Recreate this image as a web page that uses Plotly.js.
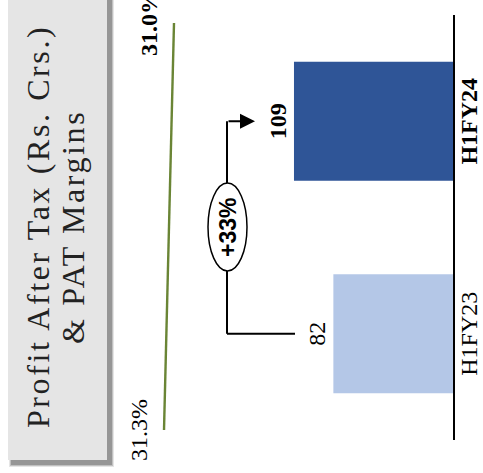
<!DOCTYPE html>
<html>
<head>
<meta charset="utf-8">
<script src="https://cdn.plot.ly/plotly-3.0.1.min.js"></script>
<style>
  html, body { margin: 0; padding: 0; width: 483px; height: 473px; overflow: hidden; background: #fff; }
  /* the chart is laid out upright and turned a quarter turn counter-clockwise */
  #chart {
    position: absolute; left: 0; top: 0;
    width: 473px; height: 483px;
    transform-origin: 0 0;
    transform: translate(0px, 473px) rotate(-90deg);
  }
  #chart .annotation[data-index="0"] text,
  #chart .annotation[data-index="1"] text { letter-spacing: 2.6px; }
</style>
</head>
<body>
<div id="chart"></div>
<script>
// ---- data ----
const categories = ['H1FY23', 'H1FY24'];
const patValues = [82, 109];            // Profit After Tax, Rs. Crs.
const patMargins = [31.3, 31.0];        // PAT margin, %
const tickLabels = ['H1FY23', '<b>H1FY24</b>'];
const barColors = ['#B4C7E7', '#2F5597'];
const titleLines = ['Profit After Tax (Rs. Crs.)', '& PAT Margins'];

// ---- geometry helpers (page is 473 x 483 before turning) ----
const W = 473, H = 483;
const px = u => u / W;            // horizontal pixel -> paper fraction
const py = v => 1 - v / H;        // vertical pixel (from top) -> paper fraction

const baseV = 453;                // bar baseline
const yTop = 310.5;               // value at the top edge of the bar axis
const vToY = v => (baseV - v) / baseV * yTop;

const serif = 'Liberation Serif, Times New Roman, serif';

const valueText = patValues.map((v, i) => i === patValues.length - 1 ? '<b>' + v + '</b>' : String(v));
const marginText = patMargins.map((m, i) => {
  const s = m.toFixed(1) + '%';
  return i === patMargins.length - 1 ? '<b>' + s + '</b>' : s;
});
const growth = Math.round((patValues[1] / patValues[0] - 1) * 100);
const growthText = '<b>+' + growth + '%</b>';

const bars = {
  type: 'bar',
  x: categories,
  y: patValues,
  width: 0.56,
  marker: { color: barColors, line: { width: 0 } },
  text: valueText,
  textposition: 'outside',
  constraintext: 'none',
  cliponaxis: false,
  textfont: { family: serif, size: 24, color: '#000' },
  hoverinfo: 'skip',
  xaxis: 'x', yaxis: 'y'
};

const marginLine = {
  type: 'scatter',
  mode: 'lines',
  x: categories,
  y: patMargins,
  line: { color: '#6A8535', width: 2.4 },
  hoverinfo: 'skip',
  xaxis: 'x2', yaxis: 'y2'
};

// bracket levels
const bracketY = vToY(227);
const legStartY = vToY(295);
const arrowTipY = vToY(255);

const shapes = [];
// title panel with a soft shadow
[[3, 0.10], [2, 0.16], [1, 0.22]].forEach(([o, a]) => {
  shapes.push({
    type: 'rect', xref: 'paper', yref: 'paper', layer: 'below',
    x0: px(13 - 4 - o), x1: px(473 + 10), y0: py(107 + 4 + o), y1: py(8 + 4 - o),
    fillcolor: 'rgba(0,0,0,' + a + ')', line: { width: 0 }
  });
});
shapes.push({
  type: 'rect', xref: 'paper', yref: 'paper', layer: 'below',
  x0: px(13), x1: px(473 + 10), y0: py(107), y1: py(8),
  fillcolor: '#E5E5E5', line: { width: 0 }
});
// growth bracket
shapes.push({ type: 'line', xref: 'x', yref: 'y', x0: 0, x1: 0, y0: legStartY, y1: bracketY,
  line: { color: '#000', width: 2 } });
shapes.push({ type: 'line', xref: 'x', yref: 'y', x0: 0, x1: 1, y0: bracketY, y1: bracketY,
  line: { color: '#000', width: 2 } });
shapes.push({ type: 'circle', xref: 'x', yref: 'y', x0: 0.295, x1: 0.709, y0: vToY(247), y1: vToY(208),
  fillcolor: '#fff', line: { color: '#000', width: 1.5 } });

const annotations = [
  { xref: 'paper', yref: 'paper', x: px(246), y: py(38), xanchor: 'center', yanchor: 'middle',
    text: titleLines[0], showarrow: false, font: { family: serif, size: 32, color: '#222' } },
  { xref: 'paper', yref: 'paper', x: px(246), y: py(73), xanchor: 'center', yanchor: 'middle',
    text: titleLines[1], showarrow: false, font: { family: serif, size: 32, color: '#222' } },
  // margin labels
  ...patMargins.map((m, i) => ({
    xref: 'x2', yref: 'y2', x: categories[i], y: m, xanchor: 'center', yanchor: 'bottom', yshift: 10,
    text: marginText[i], showarrow: false, font: { family: serif, size: 24, color: '#000' }
  })),
  // growth tag
  { xref: 'x', yref: 'y', x: 0.5, y: vToY(227.5), xanchor: 'center', yanchor: 'middle',
    text: growthText, showarrow: false, font: { family: 'Liberation Sans, Arial, sans-serif', size: 23, color: '#000' } },
  // right leg of the bracket with arrowhead
  { xref: 'x', yref: 'y', x: 1, y: arrowTipY, axref: 'x', ayref: 'y', ax: 1, ay: bracketY,
    text: '', showarrow: true, arrowhead: 2, arrowsize: 1.5, arrowwidth: 2, arrowcolor: '#000', standoff: 0 }
];

const layout = {
  width: W, height: H,
  margin: { l: 0, r: 0, t: 0, b: 0, pad: 0 },
  paper_bgcolor: '#fff', plot_bgcolor: 'rgba(0,0,0,0)',
  showlegend: false,
  xaxis: {
    domain: [px(33), px(458)], type: 'category', range: [-0.5, 1.5],
    showline: true, linecolor: '#000', linewidth: 1.5,
    ticks: '', showgrid: false, zeroline: false,
    tickmode: 'array', tickvals: categories, ticktext: tickLabels,
    tickfont: { family: serif, size: 24, color: '#000' },
    ticklabelstandoff: -6,
    anchor: 'y', fixedrange: true
  },
  yaxis: {
    domain: [1 - baseV / H, 1], range: [0, yTop], visible: false, anchor: 'x', fixedrange: true
  },
  xaxis2: {
    domain: [px(43), px(450)], type: 'category', range: [0, 1], visible: false, anchor: 'y2', fixedrange: true
  },
  yaxis2: {
    domain: [0, 1], range: [21.73, 36.22], visible: false, anchor: 'x2', fixedrange: true
  },
  shapes: shapes,
  annotations: annotations
};

Plotly.newPlot('chart', [bars, marginLine], layout, { staticPlot: true, displayModeBar: false });
</script>
</body>
</html>
